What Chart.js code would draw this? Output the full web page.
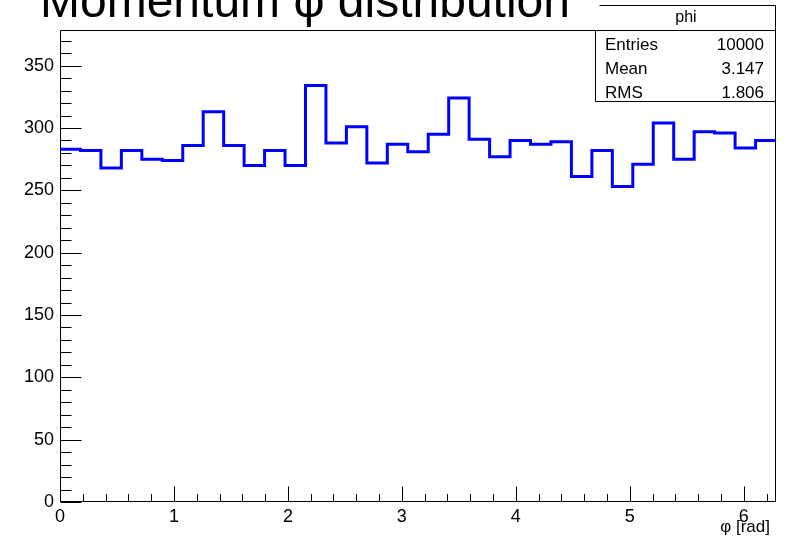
<!DOCTYPE html>
<html>
<head>
<meta charset="utf-8">
<script src="https://cdn.jsdelivr.net/npm/chart.js@4/dist/chart.umd.min.js"></script>
<style>
  html, body { margin: 0; padding: 0; background: #ffffff; }
  #wrap { width: 787px; height: 545px; position: relative; }
</style>
</head>
<body>
<div id="wrap"><canvas id="c" width="787" height="545"></canvas></div>
<script>
// Histogram definition: 35 equal bins over [0, 2π)
const PHI_MIN = 0;
const PHI_MAX = 2 * Math.PI;
const N_BINS = 35;

// Entries per bin
const binCounts = [
  283, 282, 268, 282, 275, 274, 286, 313, 286, 270,
  282, 270, 334, 288, 301, 272, 287, 281, 295, 324,
  291, 277, 290, 287, 289, 261, 282, 253, 271, 304,
  275, 297, 296, 284, 290
];

// Axis ticks
const xTickValues = [0, 1, 2, 3, 4, 5, 6];
const yTickValues = [0, 50, 100, 150, 200, 250, 300, 350];
const Y_MAX = 379;

// Text
const titleText = 'Momentum \u03c6 distribution';
const xAxisTitle = '\u03c6 [rad]';
const statsTitle = 'phi';
const statsLabels = ['Entries', 'Mean', 'RMS'];
const statsValues = ['10000', '3.147', '1.806'];

const FONT = '"Liberation Sans", Arial, Helvetica, sans-serif';

// Bin low edges, plus the upper edge carrying the last bin's height
const binWidth = (PHI_MAX - PHI_MIN) / N_BINS;
const histPoints = binCounts.map((v, i) => ({ x: PHI_MIN + i * binWidth, y: v }));
histPoints.push({ x: PHI_MAX, y: binCounts[binCounts.length - 1] });

// Frame with inward ticks, drawn before the histogram
const framePlugin = {
  id: 'frame',
  beforeDatasetsDraw(chart) {
    const ctx = chart.ctx;
    const a = chart.chartArea;
    const xs = chart.scales.x, ys = chart.scales.y;
    const L = Math.round(a.left) + 0.5, R = Math.round(a.right) - 0.5;
    const T = Math.round(a.top) + 0.5, B = Math.round(a.bottom) - 0.5;
    ctx.save();
    ctx.strokeStyle = '#000';
    ctx.lineWidth = 1;
    ctx.beginPath();
    ctx.rect(L, T, R - L, B - T);
    // y ticks: major every 50, minor every 10
    for (let v = 0; v <= Y_MAX; v += 10) {
      const py = Math.round(ys.getPixelForValue(v)) + 0.5;
      const len = (v % 50 === 0) ? 21 : 11;
      ctx.moveTo(L, py);
      ctx.lineTo(L + len, py);
    }
    // x ticks: major every 1, minor every 0.2
    for (let k = 0; k * 0.2 <= PHI_MAX + 1e-9; k++) {
      const v = k * 0.2;
      const px = Math.round(xs.getPixelForValue(v)) + 0.5;
      const len = (k % 5 === 0) ? 15 : 7.5;
      ctx.moveTo(px, B);
      ctx.lineTo(px, B - len);
    }
    ctx.stroke();
    ctx.restore();
  },
  afterDraw(chart) {
    const ctx = chart.ctx;
    ctx.save();
    // Statistics box
    const bx0 = 595.5, hx0 = 599.5, bx1 = 775.5;
    const by0 = 5.5, bsep = 30.5, by1 = 101.5;
    ctx.fillStyle = '#fff';
    ctx.fillRect(hx0, by0, bx1 - hx0, bsep - by0);
    ctx.fillRect(bx0, bsep, bx1 - bx0, by1 - bsep);
    ctx.strokeStyle = '#000';
    ctx.lineWidth = 1;
    ctx.beginPath();
    ctx.moveTo(hx0, by0); ctx.lineTo(bx1, by0); ctx.lineTo(bx1, by1);
    ctx.lineTo(bx0, by1); ctx.lineTo(bx0, bsep); ctx.lineTo(bx1, bsep);
    ctx.stroke();

    ctx.fillStyle = '#000';
    ctx.font = '16px ' + FONT;
    ctx.textAlign = 'center';
    ctx.textBaseline = 'alphabetic';
    ctx.fillText(statsTitle, 686, 22);

    ctx.font = '17px ' + FONT;
    const rowBase = [50, 74, 97.5];
    statsLabels.forEach((lab, i) => {
      ctx.textAlign = 'left';
      ctx.fillText(lab, 605, rowBase[i]);
      ctx.textAlign = 'right';
      ctx.fillText(statsValues[i], 764, rowBase[i]);
    });

    // Title
    ctx.font = '48px ' + FONT;
    ctx.textAlign = 'left';
    ctx.fillText(titleText, 40, 17);

    // x axis title
    ctx.font = '17px ' + FONT;
    ctx.textAlign = 'right';
    ctx.fillText(xAxisTitle, 770, 532);
    ctx.restore();
  }
};

new Chart(document.getElementById('c'), {
  type: 'line',
  data: {
    datasets: [{
      data: histPoints,
      stepped: 'before',
      borderColor: '#0000ff',
      borderWidth: 3,
      borderJoinStyle: 'miter',
      borderCapStyle: 'butt',
      pointRadius: 0,
      fill: false
    }]
  },
  options: {
    responsive: false,
    animation: false,
    devicePixelRatio: 1,
    layout: { padding: { top: 29.5, right: 11, left: 0, bottom: 0 } },
    plugins: { legend: { display: false }, tooltip: { enabled: false }, title: { display: false } },
    scales: {
      x: {
        type: 'linear',
        min: PHI_MIN,
        max: PHI_MAX,
        afterFit(s) { s.height = 43; },
        afterBuildTicks(s) { s.ticks = xTickValues.map(v => ({ value: v })); },
        grid: { display: false, drawTicks: false },
        border: { display: false },
        ticks: {
          includeBounds: false,
          maxRotation: 0,
          autoSkip: false,
          padding: 4,
          color: '#000',
          font: { family: FONT, size: 18 },
          callback: v => String(v)
        }
      },
      y: {
        type: 'linear',
        min: 0,
        max: Y_MAX,
        afterFit(s) { s.width = 60; },
        afterBuildTicks(s) { s.ticks = yTickValues.map(v => ({ value: v })); },
        grid: { display: false, drawTicks: false },
        border: { display: false },
        ticks: {
          includeBounds: false,
          autoSkip: false,
          padding: 6,
          color: '#000',
          font: { family: FONT, size: 18 },
          callback: v => String(v)
        }
      }
    }
  },
  plugins: [framePlugin]
});
</script>
</body>
</html>
